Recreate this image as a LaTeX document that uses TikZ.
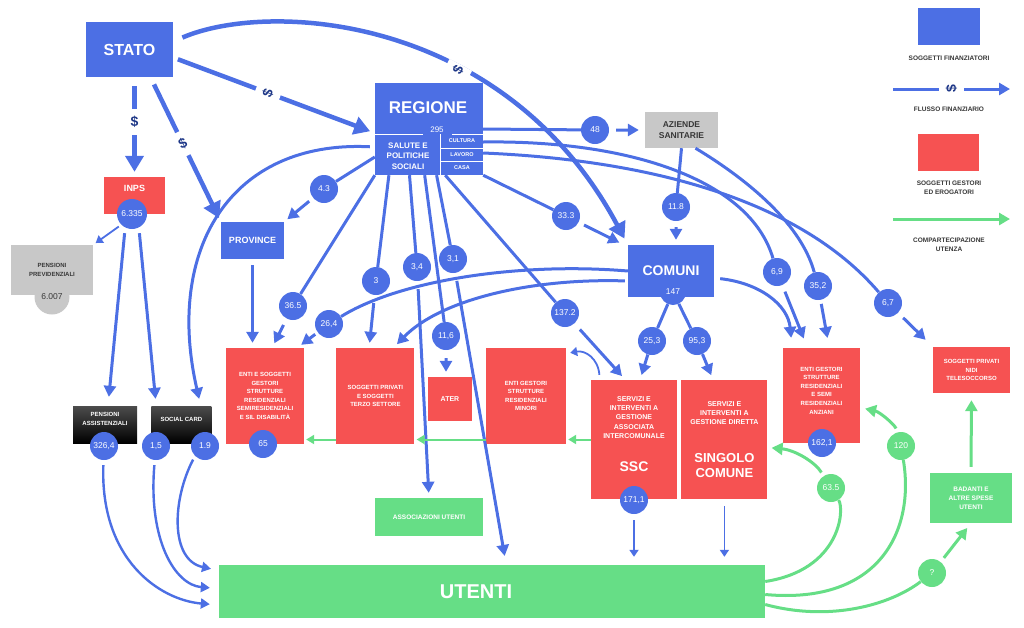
\documentclass[tikz,border=0pt]{standalone}
\usepackage{fontspec}
\setmainfont{Liberation Sans}
\usepackage{tikz}
\usetikzlibrary{calc,positioning,arrows.meta}

\definecolor{blu}{RGB}{76,111,228}
\definecolor{rosso}{RGB}{246,82,82}
\definecolor{verde}{RGB}{102,222,134}
\definecolor{grigio}{RGB}{200,200,200}
\definecolor{navy}{RGB}{30,55,135}
\definecolor{scuro}{RGB}{55,55,55}

\tikzset{
  casella/.style args={#1,#2}{
  rectangle,
  inner sep=0pt,
  align=center,
  text=white,
  minimum width=#1,
  minimum height=#2,
  },
  bluebox/.style args={#1,#2}{casella={#1,#2},fill=blu},
  redbox/.style args={#1,#2}{casella={#1,#2},fill=rosso},
  greenbox/.style args={#1,#2}{casella={#1,#2},fill=verde},
  greybox/.style args={#1,#2}{casella={#1,#2},fill=grigio,text=scuro},
  blackbox/.style args={#1,#2}{casella={#1,#2},top color=black!70,bottom color=black},
  lbl6/.style={align=center,font=\fontsize{6}{8.6}\selectfont\bfseries},
  lbl7/.style={align=center,font=\fontsize{7}{9.2}\selectfont\bfseries},
  lbl9/.style={align=center,font=\fontsize{9}{11}\selectfont\bfseries},
  lgtxt/.style={align=center,text=scuro,font=\fontsize{6.5}{9}\selectfont\bfseries},
  wtxt/.style={text=white,align=center},
  flussobig/.style={draw=blu,line width=4.5pt,-{Triangle[length=16pt,width=18pt]}},
  flusso/.style={draw=blu,line width=3pt,-{Triangle[length=11pt,width=12pt]}},
  flussomed/.style={draw=blu,line width=2.4pt,-{Triangle[length=9pt,width=10pt]}},
  flussothin/.style={draw=blu,line width=1.8pt,-{Triangle[length=7pt,width=9pt]}},
  quota/.style={draw=verde,line width=3pt,-{Triangle[length=11pt,width=12pt]}},
  quotathin/.style={draw=verde,line width=2pt,-{Triangle[length=8pt,width=9pt]}}
}

\begin{document}
\begin{tikzpicture}[x=1pt,y=-1pt,
  num/.style={circle,fill=blu,text=white,inner sep=0pt,minimum size=28,font=\fontsize{8.5}{10}\selectfont},
  gnum/.style={num,fill=verde},
  dollar/.style={sloped,rotate=90,fill=white,inner xsep=2pt,inner ysep=7pt,text=navy,font=\fontsize{14}{14}\selectfont\bfseries}]

  \useasboundingbox (0,0) rectangle (1024,627);

  % finanziatori
  \node [bluebox={87,55},font=\fontsize{16}{18}\selectfont\bfseries] (stato) at (129.5,49.5) {STATO};
  \node [bluebox={108,92}] (regione) at (429,129) {};
  \node [wtxt,font=\fontsize{17}{19}\selectfont\bfseries] (regtxt) at (428,108) {REGIONE};
  \draw [white,line width=0.8pt] (375,134) -- (423,134) (452,134) -- (483,134)
    (440,134) -- (440,175) (440,148) -- (483,148) (440,161) -- (483,161);
  \node [wtxt,font=\fontsize{8}{9}\selectfont] (reg295) at (437,130) {295};
  \node [wtxt,font=\fontsize{8}{10.5}\selectfont\bfseries] (salute) at (408,156) {SALUTE E\\POLITICHE\\SOCIALI};
  \node [wtxt,font=\fontsize{5.5}{6}\selectfont\bfseries] (cultura) at (462,141) {CULTURA};
  \node [wtxt,font=\fontsize{5.5}{6}\selectfont\bfseries] (lavoro) at (462,155) {LAVORO};
  \node [wtxt,font=\fontsize{5.5}{6}\selectfont\bfseries] (casa) at (462,168) {CASA};
  \node [bluebox={63,37},lbl9] (province) at (252.5,240.5) {PROVINCE};
  \node [greybox={73,36},font=\fontsize{8.5}{11}\selectfont\bfseries] (aziende) at (681.5,130) {AZIENDE\\SANITARIE};
  \node [bluebox={86,52},font=\fontsize{14}{16}\selectfont\bfseries] (comuni) at (671,271) {COMUNI};
  \node [num,minimum size=26] (ccomuni) at (673,292) {147};

  % inps e pensioni
  \node [redbox={61,37}] (inps) at (134.5,195.5) {};
  \node [wtxt,lbl9] (inpstxt) at ([yshift=7pt]inps.center) {INPS};
  \node [num,minimum size=30] (cinps) at (132,214) {6.335};
  \node [greybox={82,50},lbl6] (prev) at (52,270) {PENSIONI\\PREVIDENZIALI};
  \node [circle,fill=grigio,text=scuro,inner sep=0pt,minimum size=35,font=\fontsize{8.5}{10}\selectfont] (cprev) at (52,297) {6.007};
  \node [blackbox={64,37}] (assist) at (105,424.5) {};
  \node [wtxt,lbl6] (assisttxt) at ([yshift=5.5pt]assist.center) {PENSIONI\\ASSISTENZIALI};
  \node [num] (cassist) at (104,446) {326,4};
  \node [blackbox={60,37},right=14pt of assist] (social) {};
  \node [wtxt,lbl6] (socialtxt) at ([yshift=5.5pt]social.center) {SOCIAL CARD};
  \node [num] (csocial1) at (156,446) {1,5};
  \node [num] (csocial2) at (205,446) {1.9};

  % gestori ed erogatori
  \node [redbox={78,96},lbl6] (disab) at (265,396) {ENTI E SOGGETTI\\GESTORI\\STRUTTURE\\RESIDENZIALI\\SEMIRESIDENZIALI\\E SIL DISABILITÀ};
  \node [num] (cdisab) at (263,444) {65};
  \node [redbox={78,96},lbl6,right=32pt of disab] (privati) {SOGGETTI PRIVATI\\E SOGGETTI\\TERZO SETTORE};
  \node [redbox={44,44},lbl7] (ater) at (450,399) {ATER};
  \node [redbox={80,96},lbl6] (minori) at (526,396) {ENTI GESTORI\\STRUTTURE\\RESIDENZIALI\\MINORI};
  \node [redbox={86,119}] (ssc) at (634,439.5) {};
  \node [wtxt,lbl7] (ssctxt) at ([yshift=22pt]ssc.center) {SERVIZI E\\INTERVENTI A\\GESTIONE\\ASSOCIATA\\INTERCOMUNALE};
  \node [wtxt,font=\fontsize{14}{16}\selectfont\bfseries] (ssclbl) at ([yshift=-27.5pt]ssc.center) {SSC};
  \node [num] (cssc) at (634,500) {171,1};
  \node [redbox={86,119},right=4pt of ssc] (singolo) {};
  \node [wtxt,lbl7] (singolotxt) at ([yshift=26.5pt]singolo.center) {SERVIZI E\\INTERVENTI A\\GESTIONE DIRETTA};
  \node [wtxt,font=\fontsize{13}{15}\selectfont\bfseries] (singololbl) at ([yshift=-26pt]singolo.center) {SINGOLO\\COMUNE};
  \node [redbox={77,95}] (anziani) at (821.5,395.5) {};
  \node [wtxt,lbl6] (anzianitxt) at ([yshift=5pt]anziani.center) {ENTI GESTORI\\STRUTTURE\\RESIDENZIALI\\E SEMI\\RESIDENZIALI\\ANZIANI};
  \node [num] (canziani) at (822,443) {162,1};
  \node [redbox={77,46},lbl6] (nidi) at (971.5,370) {SOGGETTI PRIVATI\\NIDI\\TELESOCCORSO};

  % utenti
  \node [greenbox={108,38},font=\fontsize{6.5}{8}\selectfont\bfseries] (assoc) at (429,517) {ASSOCIAZIONI UTENTI};
  \node [greenbox={82,50},font=\fontsize{6.5}{9}\selectfont\bfseries] (badanti) at (971,498) {BADANTI E\\ALTRE SPESE\\UTENTI};
  \node [greenbox={546,53}] (utenti) at (492,591.5) {};
  \node [wtxt,font=\fontsize{20}{22}\selectfont\bfseries] (utentitxt) at (476,592) {UTENTI};

  % importi
  \node [num] (c48) at (595,130) {48};
  \node [num] (c333) at (566,216) {33.3};
  \node [num] (c118) at (676,207) {11.8};
  \node [num] (c43) at (324,189) {4.3};
  \node [num] (c365) at (293,306) {36.5};
  \node [num] (c264) at (329,324) {26,4};
  \node [num] (c3) at (376,281) {3};
  \node [num] (c34) at (417,267) {3,4};
  \node [num] (c31) at (453,259) {3,1};
  \node [num] (c116) at (446,336) {11,6};
  \node [num] (c1372) at (565,313) {137.2};
  \node [num] (c253) at (652,341) {25,3};
  \node [num] (c953) at (697,341) {95,3};
  \node [num] (c69) at (777,272) {6,9};
  \node [num] (c352) at (818,286) {35,2};
  \node [num] (c67) at (888,303) {6,7};
  \node [gnum] (c635) at (831,488) {63.5};
  \node [gnum] (c120) at (901,446) {120};
  \node [gnum] (cq) at (932,573) {?};

  % flussi dallo stato
  \draw [flussobig,shorten <=9pt,shorten >=5pt] (stato.south -| inps.north) -- node[dollar,pos=0.45]{\$} (inps.north);
  \draw [flussobig,shorten <=8pt,shorten >=4pt] ($(stato.south west)!0.74!(stato.south east)$) -- node[dollar,pos=0.46]{\$} (province.north west);
  \draw [flussobig,shorten <=5pt,shorten >=5pt] ([yshift=-8pt]stato.east) -- node[dollar,pos=0.47]{\$} ([yshift=-4pt]regione.west);
  \draw [flussobig,shorten <=10pt,shorten >=7pt] ([yshift=8pt]stato.east) .. controls (270,0) and (505,15) .. node[dollar,pos=0.63]{\$} (comuni.north west);

  % flussi dalla regione
  \draw [flusso,shorten <=7pt,shorten >=6pt] (regione.east) -- (c48) -- (aziende.west);
  \draw [flusso,shorten <=6pt,shorten >=5pt] (regione.south east) -- (c333) -- ([xshift=-4pt]comuni.north west);
  \draw [flusso,shorten <=5pt,shorten >=4pt] ([yshift=-28pt]regione.west) -- (c43) -- (province.north east);
  \draw [flusso,shorten <=7pt,shorten >=5pt] (regione.south west) -- (c365) -- ($(disab.north west)!0.59!(disab.north east)$);
  \draw [flusso,shorten <=6pt,shorten >=5pt] (province.south) -- (province.south |- disab.north);
  \draw [flusso,shorten <=8pt,shorten >=5pt] ($(regione.south west)!0.13!(regione.south east)$) -- (c3) -- ($(privati.north west)!0.42!(privati.north east)$);
  \draw [flusso,shorten <=8pt,shorten >=5pt] ($(regione.south west)!0.32!(regione.south east)$) -- (c34) -- (assoc.north);
  \draw [flusso,shorten <=8pt,shorten >=5pt] ($(regione.south west)!0.46!(regione.south east)$) -- (c116) -- (c116 |- ater.north);
  \draw [flusso,shorten <=8pt,shorten >=9pt] ($(regione.south west)!0.57!(regione.south east)$) -- (c31) -- ($(utenti.north west)!0.526!(utenti.north east)$);
  \draw [flusso,shorten <=8pt,shorten >=5pt] ($(regione.south west)!0.65!(regione.south east)$) -- (c1372) -- ($(ssc.north west)!0.4!(ssc.north east)$);
  \draw [flusso,shorten <=5pt,shorten >=7pt] ([yshift=-18pt]regione.west) .. controls (230,140) and (165,250) .. ($(social.north west)!0.82!(social.north east)$);
  \draw [flusso,shorten <=7pt,shorten >=10pt] ([yshift=-13pt]regione.east) .. controls (630,140) and (750,180) .. (c69) -- ($(anziani.north west)!0.32!(anziani.north east)$);
  \draw [flusso,shorten <=7pt,shorten >=10pt] ([yshift=-24pt]regione.east) .. controls (650,160) and (800,200) .. (c67) -- (nidi.north west);

  % flussi da aziende e comuni
  \draw [flusso,shorten <=6pt,shorten >=5pt] (aziende.south) -- (c118) -- (c118 |- comuni.north);
  \draw [flusso,shorten <=4pt,shorten >=10pt] ([xshift=14pt]aziende.south) .. controls (740,175) and (800,220) .. (c352) -- ($(anziani.north west)!0.6!(anziani.north east)$);
  \draw [flusso,shorten <=3pt,shorten >=5pt] (comuni.west) .. controls (520,262) and (400,280) .. (c264) -- ($(disab.north west)!0.91!(disab.north east)$);
  \draw [flusso,shorten <=3pt,shorten >=5pt] ([yshift=-10pt]comuni.west) .. controls (530,278) and (440,300) .. ($(privati.north west)!0.73!(privati.north east)$);
  \draw [flusso,shorten >=5pt] (ccomuni) -- (c253) -- ($(ssc.north west)!0.57!(ssc.north east)$);
  \draw [flusso,shorten >=5pt] (ccomuni) -- (c953) -- ($(singolo.north west)!0.37!(singolo.north east)$);
  \draw [flusso,shorten <=6pt,shorten >=10pt] ([yshift=-7pt]comuni.east) .. controls (760,283) and (788,305) .. ($(anziani.north west)!0.12!(anziani.north east)$);
  \draw [flussothin,shorten <=5pt] ([xshift=9pt]ssc.north west) .. controls (598,358) and (585,350) .. ([xshift=4pt,yshift=-5pt]minori.north east);
  \draw [flussothin,shorten <=6pt,shorten >=8pt] (cssc) -- (cssc |- utenti.north);
  \draw [flussothin,shorten <=7pt,shorten >=8pt] (singolo.south) -- (singolo.south |- utenti.north);

  % flussi inps
  \draw [flusso,shorten <=4pt,shorten >=9pt] ([xshift=-7pt]cinps.south) -- ([xshift=3pt]assist.north);
  \draw [flusso,shorten <=4pt,shorten >=7pt] ([xshift=7pt]cinps.south) -- ([xshift=5pt]social.north west);
  \draw [flussothin,shorten <=3pt,shorten >=3pt] (cinps.south west) -- (prev.north east);
  \draw [flussomed,shorten <=5pt,shorten >=9pt] (cassist) .. controls (100,560) and (160,600) .. ([yshift=-13.5pt]utenti.west);
  \draw [flussomed,shorten <=5pt,shorten >=9pt] (csocial1) .. controls (148,540) and (175,585) .. ([yshift=3pt]utenti.west);
  \draw [flussomed,shorten <=4pt,shorten >=8pt] (csocial2.south west) .. controls (172,500) and (170,560) .. ([yshift=21pt]utenti.west);

  % compartecipazione
  \draw [quotathin,shorten >=2pt] (ssc.west) -- (ssc.west -| minori.east);
  \draw [quotathin,shorten >=2pt] (minori.west |- ssc.west) -- (privati.east |- ssc.west);
  \draw [quotathin,shorten >=2pt] (privati.west |- ssc.west) -- (disab.east |- ssc.west);
  \draw [quota,shorten <=4pt,shorten >=4pt] ([yshift=10pt]utenti.east) .. controls (840,570) and (845,510) .. (c635) .. controls (815,462) and (795,450) .. ([yshift=-8pt]singolo.east);
  \draw [quota,shorten <=4pt,shorten >=5pt] ([yshift=-3pt]utenti.east) .. controls (880,605) and (915,530) .. (c120) .. controls (895,425) and (880,412) .. ([yshift=-12pt]anziani.east);
  \draw [quota,shorten <=5pt,shorten >=6pt] ([yshift=-13pt]utenti.east) .. controls (830,622) and (890,605) .. (cq) -- (badanti.south);
  \draw [quota,shorten <=6pt,shorten >=7pt] (badanti.north) -- (nidi.south);

  % legenda
  \node [bluebox={62,37}] (lgblu) at (949,26.5) {};
  \node [lgtxt] (lgblutxt) at (949,58) {SOGGETTI FINANZIATORI};
  \coordinate (lga) at (893,89);
  \coordinate (lgb) at (1010,89);
  \draw [flusso] (lga) -- node[dollar]{\$} (lgb);
  \node [lgtxt] (lgflutxt) at (949,109) {FLUSSO FINANZIARIO};
  \node [redbox={61,37}] (lgrosso) at (948.5,152.5) {};
  \node [lgtxt] (lgrossotxt) at (949,187.5) {SOGGETTI GESTORI\\ED EROGATORI};
  \coordinate (lgc) at (893,219);
  \coordinate (lgd) at (1010,219);
  \draw [quota] (lgc) -- (lgd);
  \node [lgtxt] (lgverdetxt) at (949,244.5) {COMPARTECIPAZIONE\\UTENZA};

\end{tikzpicture}
\end{document}
